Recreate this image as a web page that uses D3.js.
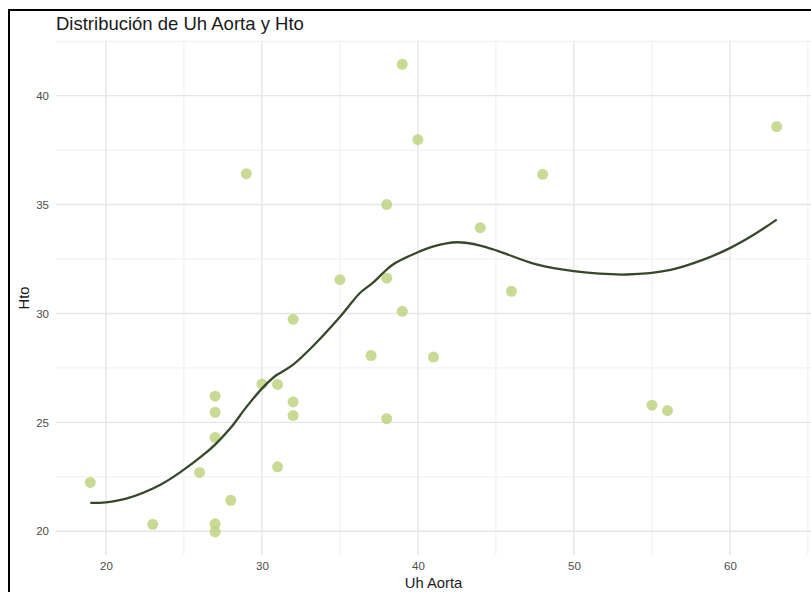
<!DOCTYPE html>
<html>
<head>
<meta charset="utf-8">
<script src="https://cdn.jsdelivr.net/npm/d3@7/dist/d3.min.js"></script>
<style>
  html, body { margin: 0; padding: 0; background: #fff; }
  svg { display: block; font-family: "Liberation Sans", Arial, sans-serif; }
</style>
</head>
<body>
<svg id="chart" width="811" height="592"></svg>
<script>
// Observations: Uh Aorta (x) and Hto (y)
const uhAorta = [19, 23, 26, 27, 27, 27, 27, 27, 28, 29, 30, 31, 31, 32, 32, 32,
                 35, 37, 38, 38, 38, 39, 39, 40, 41, 44, 46, 48, 55, 56, 63];
const hto     = [22.24, 20.32, 22.7, 26.2, 25.46, 24.3, 20.34, 19.97, 21.42, 36.42, 26.76, 26.74, 22.96, 29.73, 25.94, 25.31,
                 31.55, 28.07, 31.62, 35.0, 25.17, 30.1, 41.44, 37.98, 28.0, 33.94, 31.02, 36.39, 25.79, 25.54, 38.58];

// Smoothed trend (loess fit)
const trendX = [19, 20, 21.3, 23.5, 25, 26.2, 27, 28, 29, 30, 30.9, 31.3, 32, 33.2, 35, 36.3, 37.1, 37.8,
                38.4, 39.7, 41, 42.5, 44, 45.2, 47.6, 50, 53.4, 56.2, 58.3, 60, 61.5, 63];
const trendY = [21.3, 21.33, 21.5, 22.14, 22.83, 23.48, 23.98, 24.75, 25.7, 26.55, 27.15, 27.32, 27.65, 28.45, 29.84, 30.95, 31.4, 31.88,
                32.25, 32.72, 33.08, 33.27, 33.12, 32.85, 32.25, 31.94, 31.79, 32.0, 32.47, 33.0, 33.6, 34.31];

const xTicks = [20, 30, 40, 50, 60];
const yTicks = [20, 25, 30, 35, 40];
const xMinor = [25, 35, 45, 55, 65];
const yMinor = [22.5, 27.5, 32.5, 37.5, 42.5];

const titleText = "Distribución de Uh Aorta y Hto";
const xLabel = "Uh Aorta";
const yLabel = "Hto";

const svg = d3.select("#chart");
const W = 811, H = 592;
const panel = { left: 56, right: 811, top: 41, bottom: 555 };

const x = d3.scaleLinear().domain([16.8, 65.2]).range([panel.left, panel.right]);
const y = d3.scaleLinear().domain([18.91, 42.51]).range([panel.bottom, panel.top]);

svg.append("rect").attr("width", W).attr("height", H).attr("fill", "#fff");

// grid
const grid = svg.append("g");
grid.selectAll(".xminor").data(xMinor).join("line")
  .attr("x1", d => x(d)).attr("x2", d => x(d))
  .attr("y1", panel.top).attr("y2", panel.bottom)
  .attr("stroke", "#efefef").attr("stroke-width", 1);
grid.selectAll(".yminor").data(yMinor).join("line")
  .attr("y1", d => y(d)).attr("y2", d => y(d))
  .attr("x1", panel.left).attr("x2", panel.right)
  .attr("stroke", "#efefef").attr("stroke-width", 1);
grid.selectAll(".xmajor").data(xTicks).join("line")
  .attr("x1", d => x(d)).attr("x2", d => x(d))
  .attr("y1", panel.top).attr("y2", panel.bottom)
  .attr("stroke", "#e6e6e6").attr("stroke-width", 1.4);
grid.selectAll(".ymajor").data(yTicks).join("line")
  .attr("y1", d => y(d)).attr("y2", d => y(d))
  .attr("x1", panel.left).attr("x2", panel.right)
  .attr("stroke", "#e6e6e6").attr("stroke-width", 1.4);

// axes (labels only)
const xAxis = svg.append("g").attr("transform", `translate(0,${panel.bottom})`)
  .call(d3.axisBottom(x).tickValues(xTicks).tickSize(0).tickPadding(7));
const yAxis = svg.append("g").attr("transform", `translate(${panel.left},0)`)
  .call(d3.axisLeft(y).tickValues(yTicks).tickSize(0).tickPadding(7));
[xAxis, yAxis].forEach(a => {
  a.select(".domain").remove();
  a.selectAll("text").attr("fill", "#4d4d4d").style("font-size", "11.5px")
    .style("font-family", "'Liberation Sans', Arial, sans-serif");
});

// points
const pts = uhAorta.map((v, i) => ({ x: v, y: hto[i] }));
svg.append("g").selectAll("circle").data(pts).join("circle")
  .attr("cx", d => x(d.x)).attr("cy", d => y(d.y)).attr("r", 5.5)
  .attr("fill", "#bcd17a").attr("fill-opacity", 0.8);

// trend line
const trend = trendX.map((v, i) => ({ x: v, y: trendY[i] }));
svg.append("path").datum(trend)
  .attr("d", d3.line().x(d => x(d.x)).y(d => y(d.y)).curve(d3.curveCatmullRom.alpha(0.5)))
  .attr("fill", "none").attr("stroke", "#37472a").attr("stroke-width", 2.3);

// titles
svg.append("text").attr("x", panel.left).attr("y", 29.5)
  .attr("fill", "#1a1a1a").style("font-size", "18.5px").text(titleText);
svg.append("text").attr("x", (panel.left + panel.right) / 2).attr("y", 587.5)
  .attr("text-anchor", "middle").attr("fill", "#1a1a1a").style("font-size", "14.8px").text(xLabel);
svg.append("text").attr("transform", `translate(29,${(panel.top + panel.bottom) / 2}) rotate(-90)`)
  .attr("text-anchor", "middle").attr("fill", "#1a1a1a").style("font-size", "14.8px").text(yLabel);

// outer frame
svg.append("rect").attr("x", 9).attr("y", 10).attr("width", W + 20).attr("height", H + 20)
  .attr("fill", "none").attr("stroke", "#000").attr("stroke-width", 2);
</script>
</body>
</html>
